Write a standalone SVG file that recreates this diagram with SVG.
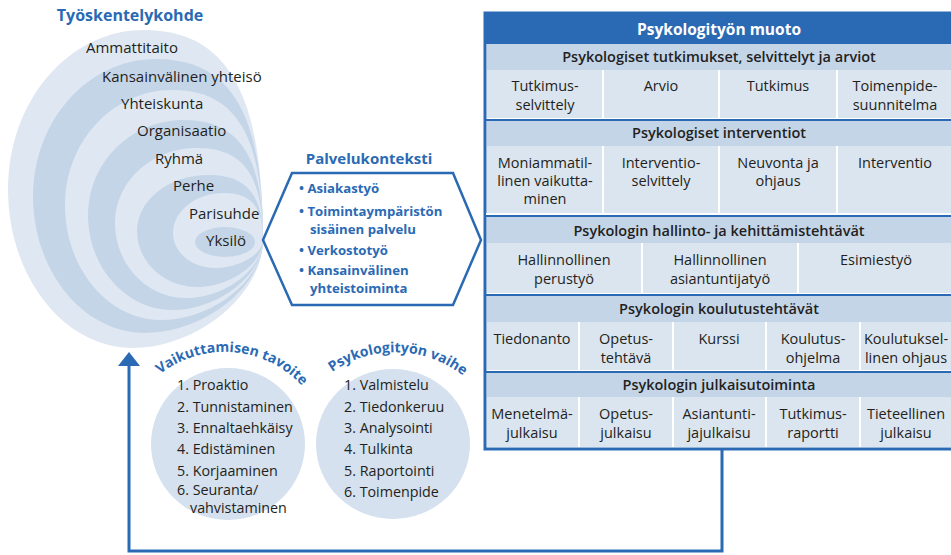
<svg xmlns="http://www.w3.org/2000/svg" width="951" height="555" viewBox="0 0 951 555">
<style>
text{font-family:"Open Sans","Noto Sans",sans-serif;}
.lbl{font-size:15px;fill:#231f20;}
.ttl{font-size:16px;font-weight:700;fill:#2a6ab4;}
.lt{fill:#dfe8f2;}
.dk{fill:#c5d5e8;}
.bul{font-size:13.2px;font-weight:700;fill:#2a6ab4;}
.li{font-size:14.3px;fill:#231f20;}
.arc{font-size:14px;font-weight:700;fill:#2a6ab4;}
.hdr{font-size:14.5px;font-weight:600;fill:#231f20;text-anchor:middle;}
.cell{font-size:14.5px;fill:#231f20;text-anchor:middle;}
.rowh{fill:#c4d5e8;}
.rowc{fill:#dbe5f0;}
.sep{stroke:#ffffff;stroke-width:2;}
.bl{stroke:#2a6ab4;stroke-width:2;}
.circ{fill:#d5e1ee;}
</style>
<defs>
<marker id="ah" markerUnits="userSpaceOnUse" viewBox="0 0 14 22" refX="0" refY="11" markerWidth="14" markerHeight="22" orient="auto">
<path d="M0,0 L14,11 L0,22 z" fill="#2a6ab4"/>
</marker>
<path id="arc1" d="M 159 375 A 105 105 0 0 1 303 387"/>
<path id="arc2" d="M 328 375 A 110 110 0 0 1 467 379"/>
</defs>

<g id="tyoskentelykohde">
<text class="ttl" x="130" y="21" text-anchor="middle">Työskentelykohde</text>
<path class="lt" d="M263,240 C263,93 227.2,30 143.5,30 C68.7,30 8,101.2 8,189 C8,276.8 63.8,348 132.5,348 C197.8,348 263,294 263,240 Z"/>
<path class="dk" d="M263,240 C263,113.3 230.9,59 156,59 C88.1,59 33,120.4 33,196 C33,271.6 83.2,333 145,333 C204,333 263,286.5 263,240 Z"/>
<path class="lt" d="M263,240 C263,135 235.7,90 172,90 C112.9,90 65,141.5 65,205 C65,268.5 108,320 161,320 C212,320 263,280 263,240 Z"/>
<path class="dk" d="M263,240 C263,156 239.2,120 183.5,120 C130.8,120 88,162.6 88,215 C88,267.4 125.9,310 172.5,310 C217.8,310 263,275 263,240 Z"/>
<path class="lt" d="M263,240 C263,175.6 243.2,148 197,148 C151.7,148 115,181.6 115,223 C115,264.4 146.8,298 186,298 C224.5,298 263,269 263,240 Z"/>
<path class="dk" d="M263,240 C263,194.5 246.5,175 208,175 C168.8,175 137,200.1 137,231 C137,261.9 163.9,287 197,287 C230,287 263,263.5 263,240 Z"/>
<path class="lt" d="M263,240 C263,207.1 251.3,193 224,193 C195.8,193 173,210.9 173,233 C173,252.3 191.8,268 215,268 C239,268 263,254 263,240 Z"/>
<ellipse class="dk" cx="225" cy="242" rx="30" ry="15"/>
<text class="lbl" x="86" y="53">Ammattitaito</text>
<text class="lbl" x="102" y="82">Kansainvälinen yhteisö</text>
<text class="lbl" x="121" y="109">Yhteiskunta</text>
<text class="lbl" x="137" y="136">Organisaatio</text>
<text class="lbl" x="155" y="164">Ryhmä</text>
<text class="lbl" x="173" y="191">Perhe</text>
<text class="lbl" x="189" y="219">Parisuhde</text>
<text class="lbl" x="206" y="246">Yksilö</text>
</g>

<g id="palvelukonteksti">
<text class="ttl" x="369" y="164" text-anchor="middle" style="font-size:15px">Palvelukonteksti</text>
<polygon points="263,240 292,173 453,173 481,240 453,305 292,305" fill="none" stroke="#2a6ab4" stroke-width="2.5" stroke-linejoin="miter"/>
<text class="bul" x="299" y="193">• Asiakastyö</text>
<text class="bul" x="299" y="216">• Toimintaympäristön</text>
<text class="bul" x="310" y="234">sisäinen palvelu</text>
<text class="bul" x="299" y="255">• Verkostotyö</text>
<text class="bul" x="299" y="275">• Kansainvälinen</text>
<text class="bul" x="310" y="293">yhteistoiminta</text>
</g>

<g id="vaikuttamisen-tavoite">
<ellipse class="circ" cx="228" cy="444" rx="77" ry="76"/>
<text class="arc"><textPath href="#arc1" startOffset="50%" text-anchor="middle">Vaikuttamisen tavoite</textPath></text>
<text class="li" x="177" y="390">1. Proaktio</text>
<text class="li" x="177" y="412">2. Tunnistaminen</text>
<text class="li" x="177" y="433">3. Ennaltaehkäisy</text>
<text class="li" x="177" y="454">4. Edistäminen</text>
<text class="li" x="177" y="476">5. Korjaaminen</text>
<text class="li" x="177" y="495">6. Seuranta/</text>
<text class="li" x="190" y="513">vahvistaminen</text>
</g>

<g id="psykologityon-vaihe">
<ellipse class="circ" cx="393" cy="444" rx="77" ry="75"/>
<text class="arc"><textPath href="#arc2" startOffset="50%" text-anchor="middle">Psykologityön vaihe</textPath></text>
<text class="li" x="344" y="390">1. Valmistelu</text>
<text class="li" x="344" y="412">2. Tiedonkeruu</text>
<text class="li" x="344" y="433">3. Analysointi</text>
<text class="li" x="344" y="454">4. Tulkinta</text>
<text class="li" x="344" y="476">5. Raportointi</text>
<text class="li" x="344" y="497">6. Toimenpide</text>
</g>

<g id="psykologityon-muoto">
<rect x="485" y="13" width="470" height="436" fill="#ffffff" stroke="#2a6ab4" stroke-width="3"/>
<rect x="485" y="13" width="466" height="31" fill="#2a6ab4"/>
<text x="719" y="35" text-anchor="middle" style="font-size:15.5px;font-weight:700;fill:#ffffff">Psykologityön muoto</text>

<rect class="rowh" x="487" y="44" width="464" height="26"/>
<rect class="rowc" x="487" y="70" width="464" height="48"/>
<line class="bl" x1="486" y1="120" x2="951" y2="120"/>
<rect class="rowh" x="487" y="121" width="464" height="25"/>
<rect class="rowc" x="487" y="146" width="464" height="67"/>
<line class="bl" x1="486" y1="216" x2="951" y2="216"/>
<rect class="rowh" x="487" y="217" width="464" height="26"/>
<rect class="rowc" x="487" y="243" width="464" height="50"/>
<line class="bl" x1="486" y1="295" x2="951" y2="295"/>
<rect class="rowh" x="487" y="296" width="464" height="26"/>
<rect class="rowc" x="487" y="322" width="464" height="48"/>
<line class="bl" x1="486" y1="372" x2="951" y2="372"/>
<rect class="rowh" x="487" y="373" width="464" height="24"/>
<rect class="rowc" x="487" y="397" width="464" height="50"/>

<g class="sep">
<line x1="603" y1="70" x2="603" y2="119"/><line x1="719" y1="70" x2="719" y2="119"/><line x1="837" y1="70" x2="837" y2="119"/>
<line x1="603" y1="146" x2="603" y2="215"/><line x1="719" y1="146" x2="719" y2="215"/><line x1="837" y1="146" x2="837" y2="215"/>
<line x1="642" y1="243" x2="642" y2="294"/><line x1="798" y1="243" x2="798" y2="294"/>
<line x1="579" y1="322" x2="579" y2="371"/><line x1="673" y1="322" x2="673" y2="371"/><line x1="766" y1="322" x2="766" y2="371"/><line x1="860" y1="322" x2="860" y2="371"/>
<line x1="579" y1="397" x2="579" y2="447"/><line x1="673" y1="397" x2="673" y2="447"/><line x1="766" y1="397" x2="766" y2="447"/><line x1="860" y1="397" x2="860" y2="447"/>
<line x1="486" y1="214" x2="951" y2="214"/>
</g>

<text class="hdr" x="719" y="62">Psykologiset tutkimukset, selvittelyt ja arviot</text>
<text class="cell" x="545" y="91">Tutkimus-</text>
<text class="cell" x="545" y="110">selvittely</text>
<text class="cell" x="661" y="91">Arvio</text>
<text class="cell" x="778" y="91">Tutkimus</text>
<text class="cell" x="895" y="91">Toimenpide-</text>
<text class="cell" x="895" y="110">suunnitelma</text>

<text class="hdr" x="719" y="138">Psykologiset interventiot</text>
<text class="cell" x="545" y="168">Moniammatil-</text>
<text class="cell" x="545" y="186">linen vaikutta-</text>
<text class="cell" x="545" y="204">minen</text>
<text class="cell" x="661" y="168">Interventio-</text>
<text class="cell" x="661" y="186">selvittely</text>
<text class="cell" x="778" y="168">Neuvonta ja</text>
<text class="cell" x="778" y="186">ohjaus</text>
<text class="cell" x="895" y="168">Interventio</text>

<text class="hdr" x="719" y="236">Psykologin hallinto- ja kehittämistehtävät</text>
<text class="cell" x="564" y="265">Hallinnollinen</text>
<text class="cell" x="564" y="284">perustyö</text>
<text class="cell" x="720" y="265">Hallinnollinen</text>
<text class="cell" x="720" y="284">asiantuntijatyö</text>
<text class="cell" x="876" y="265">Esimiestyö</text>

<text class="hdr" x="719" y="314">Psykologin koulutustehtävät</text>
<text class="cell" x="532" y="344">Tiedonanto</text>
<text class="cell" x="626" y="344">Opetus-</text>
<text class="cell" x="626" y="363">tehtävä</text>
<text class="cell" x="719" y="344">Kurssi</text>
<text class="cell" x="813" y="344">Koulutus-</text>
<text class="cell" x="813" y="363">ohjelma</text>
<text class="cell" x="906" y="344">Koulutuksel-</text>
<text class="cell" x="906" y="363">linen ohjaus</text>

<text class="hdr" x="719" y="390">Psykologin julkaisutoiminta</text>
<text class="cell" x="532" y="419">Menetelmä-</text>
<text class="cell" x="532" y="438">julkaisu</text>
<text class="cell" x="626" y="419">Opetus-</text>
<text class="cell" x="626" y="438">julkaisu</text>
<text class="cell" x="719" y="419">Asiantunti-</text>
<text class="cell" x="719" y="438">jajulkaisu</text>
<text class="cell" x="813" y="419">Tutkimus-</text>
<text class="cell" x="813" y="438">raportti</text>
<text class="cell" x="906" y="419">Tieteellinen</text>
<text class="cell" x="906" y="438">julkaisu</text>
</g>

<g id="connectors">
<path d="M722,450 V551 H129 V366" fill="none" stroke="#2a6ab4" stroke-width="3" marker-end="url(#ah)"/>
</g>
</svg>
